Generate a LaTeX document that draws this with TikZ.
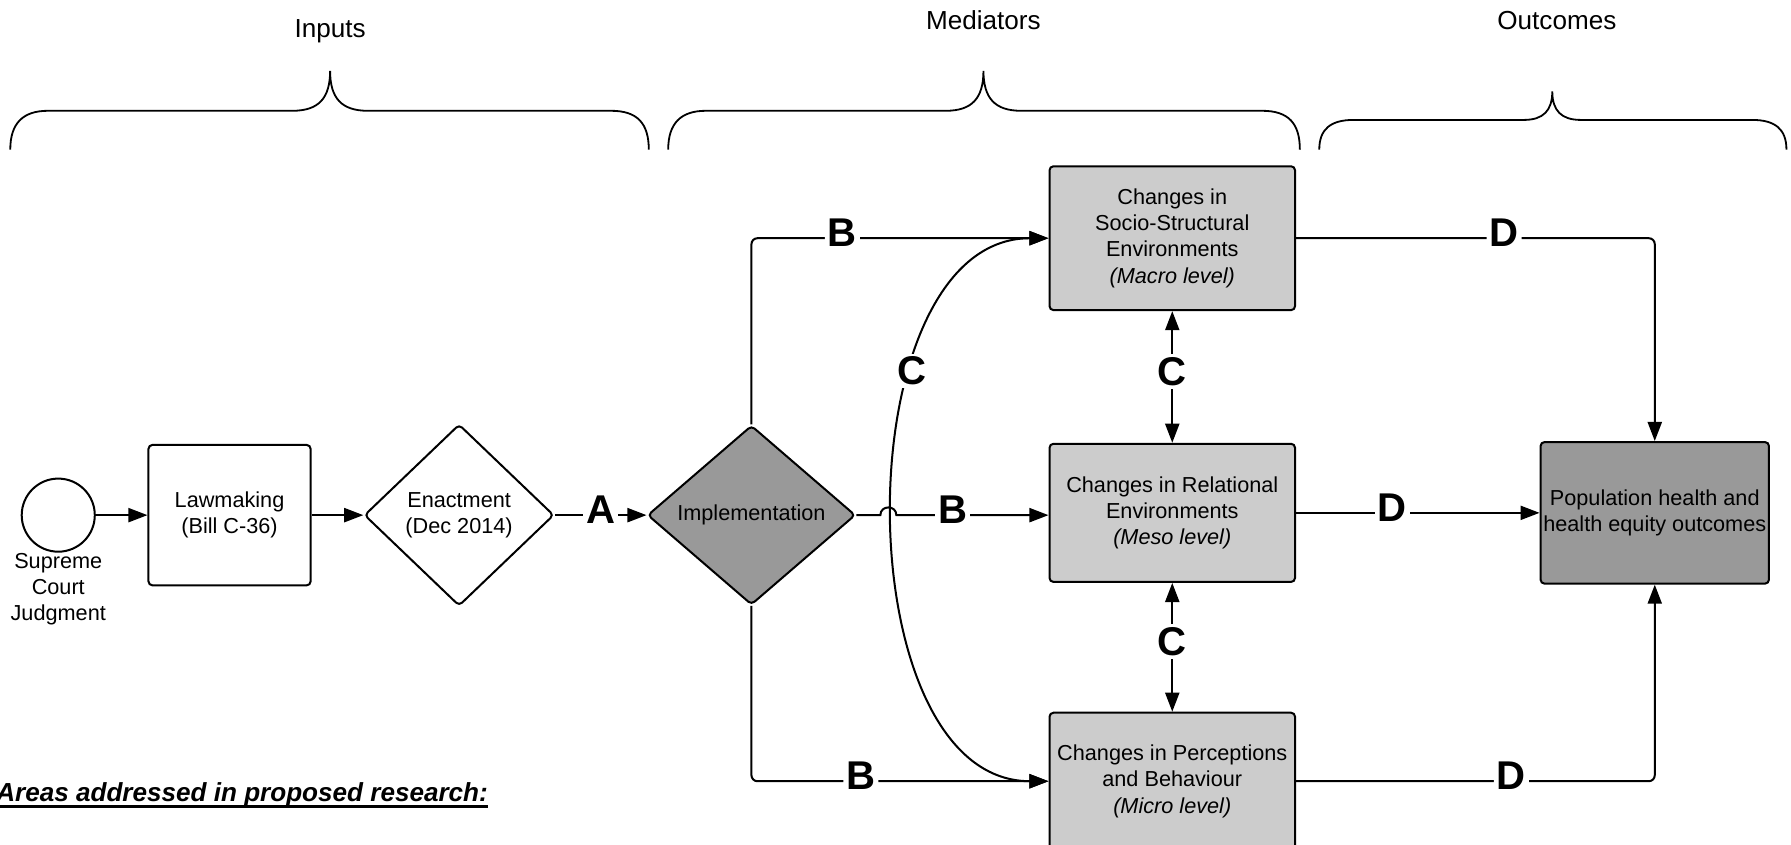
\documentclass[tikz,border=0pt]{standalone}
\usepackage{fontspec}
\setmainfont{Liberation Sans}
\usepackage{tikz}
\usetikzlibrary{shapes,arrows.meta}
\newcommand{\thickul}[1]{\sbox0{#1}\rlap{\usebox0}\rule[-3.2pt]{\wd0}{1.4pt}}
\tikzstyle{line} = [draw, -{Triangle[length=9.5pt, width=7pt]}]
\tikzstyle{biline} = [draw, {Triangle[length=9.5pt, width=7pt]}-{Triangle[length=9.5pt, width=7pt]}]
\tikzstyle{round} = [draw, circle, fill=white, minimum size=1.28cm, inner sep=0pt]
\tikzstyle{process} = [rectangle, draw, rounded corners=2pt, fill=white, minimum width=2.84cm, minimum height=2.46cm, align=center]
\tikzstyle{decision} = [diamond, draw, rounded corners=2pt, fill=white, inner sep=0pt, aspect=1, minimum width=3.32cm, minimum height=3.18cm, align=center]
\tikzstyle{mediator} = [rectangle, draw, rounded corners=2pt, fill=black!20, minimum width=4.3cm, align=center]
\tikzstyle{outcome} = [rectangle, draw, rounded corners=2pt, fill=black!40, minimum width=4cm, minimum height=2.48cm, inner xsep=1pt, align=center]
\tikzstyle{letter} = [fill=white, inner sep=1.5pt, yshift=2.8pt, font=\fontsize{20}{20}\selectfont\bfseries]
\tikzstyle{header} = [font=\fontsize{13}{15}\selectfont]

\begin{document}
\begin{tikzpicture}[x=0.02cm, y=-0.02cm, line width=1pt, every node/.style={font=\fontsize{10.8}{13.1}\selectfont}]
	\useasboundingbox (0,0) rectangle (1568,739);

	\node [header] (inputs) at (289,27) {Inputs};
	\node [header] (mediators) at (861,18) {Mediators};
	\node [header] (outcomes) at (1363,18) {Outcomes};

	% braces
	\draw [line width=0.9pt] (9,131) .. controls (9,108) and (20,97) .. (42,97) -- (256,97) .. controls (279,97) and (289,86) .. (289,62) .. controls (289,86) and (299,97) .. (322,97) -- (535,97) .. controls (558,97) and (568,108) .. (568,131);
	\draw [line width=0.9pt] (585,131) .. controls (585,108) and (596,97) .. (618,97) -- (828,97) .. controls (851,97) and (861,86) .. (861,62) .. controls (861,86) and (871,97) .. (894,97) -- (1105,97) .. controls (1128,97) and (1138,108) .. (1138,131);
	\draw [line width=0.9pt] (1155,131) .. controls (1155,113) and (1165,105) .. (1185,105) -- (1334,105) .. controls (1351,105) and (1359,97) .. (1359,80) .. controls (1359,97) and (1367,105) .. (1384,105) -- (1534,105) .. controls (1554,105) and (1564,113) .. (1564,131);

	\node [round] (court) at (51,451) {};
	\node [below of=court, node distance=1.3cm, align=center] (courtlbl) {Supreme\\Court\\Judgment};
	\node [process, right of=court, node distance=3cm] (law) {Lawmaking\\(Bill C-36)};
	\node [decision, right of=law, node distance=4.02cm] (enact) {Enactment\\(Dec 2014)};
	\node [decision, right of=enact, node distance=5.12cm, fill=black!40, minimum width=3.64cm, minimum height=3.14cm] (impl) {Implementation};

	\node [mediator, right of=impl, node distance=7.37cm, yshift=0.04cm, minimum height=2.42cm] (meso) {Changes in Relational\\Environments\\\textit{(Meso level)}};
	\node [mediator, above of=meso, node distance=4.81cm, minimum height=2.52cm] (macro) {Changes in\\Socio-Structural\\Environments\\\textit{(Macro level)}};
	\node [mediator, below of=meso, node distance=4.7cm, minimum height=2.4cm] (micro) {Changes in Perceptions\\and Behaviour\\\textit{(Micro level)}};
	\node [outcome, right of=meso, node distance=8.45cm] (pop) {Population health and\\health equity outcomes};

	\node [anchor=base east, inner sep=0pt, font=\fontsize{13}{15}\selectfont\bfseries\itshape] (areas) at (428,702) {\thickul{Areas addressed in proposed research:}};

	\path [line] (court) -- (law);
	\path [line] (law) -- (enact);
	\path [line] (enact) -- node [letter] {A} (impl);
	\path [line, rounded corners=3pt] (impl.north) |- node [letter, pos=0.653] {B} (macro.west);
	\path [line] (impl.east) -- ++(21,0) .. controls +(0,-9) and +(0,-9) .. ++(14,0) -- node [letter, pos=0.37] {B} (meso.west |- impl.east);
	\path [line, rounded corners=3pt] (impl.south) |- node [letter, pos=0.684] {B} (micro.west);
	\path [biline] (macro.west) to [out=180, in=180, looseness=0.97] node [letter, pos=0.33] {C} (micro.west);
	\path [biline] (macro.south) -- node [letter] {C} (meso.north);
	\path [biline] (meso.south) -- node [letter] {C} (micro.north);
	\path [line, rounded corners=3pt] (macro.east) -| node [letter, pos=0.29] {D} (pop.north);
	\path [line] (meso.east) -- node [letter, pos=0.395] {D} (pop.west);
	\path [line, rounded corners=3pt] (micro.east) -| node [letter, pos=0.3] {D} (pop.south);
\end{tikzpicture}
\end{document}
